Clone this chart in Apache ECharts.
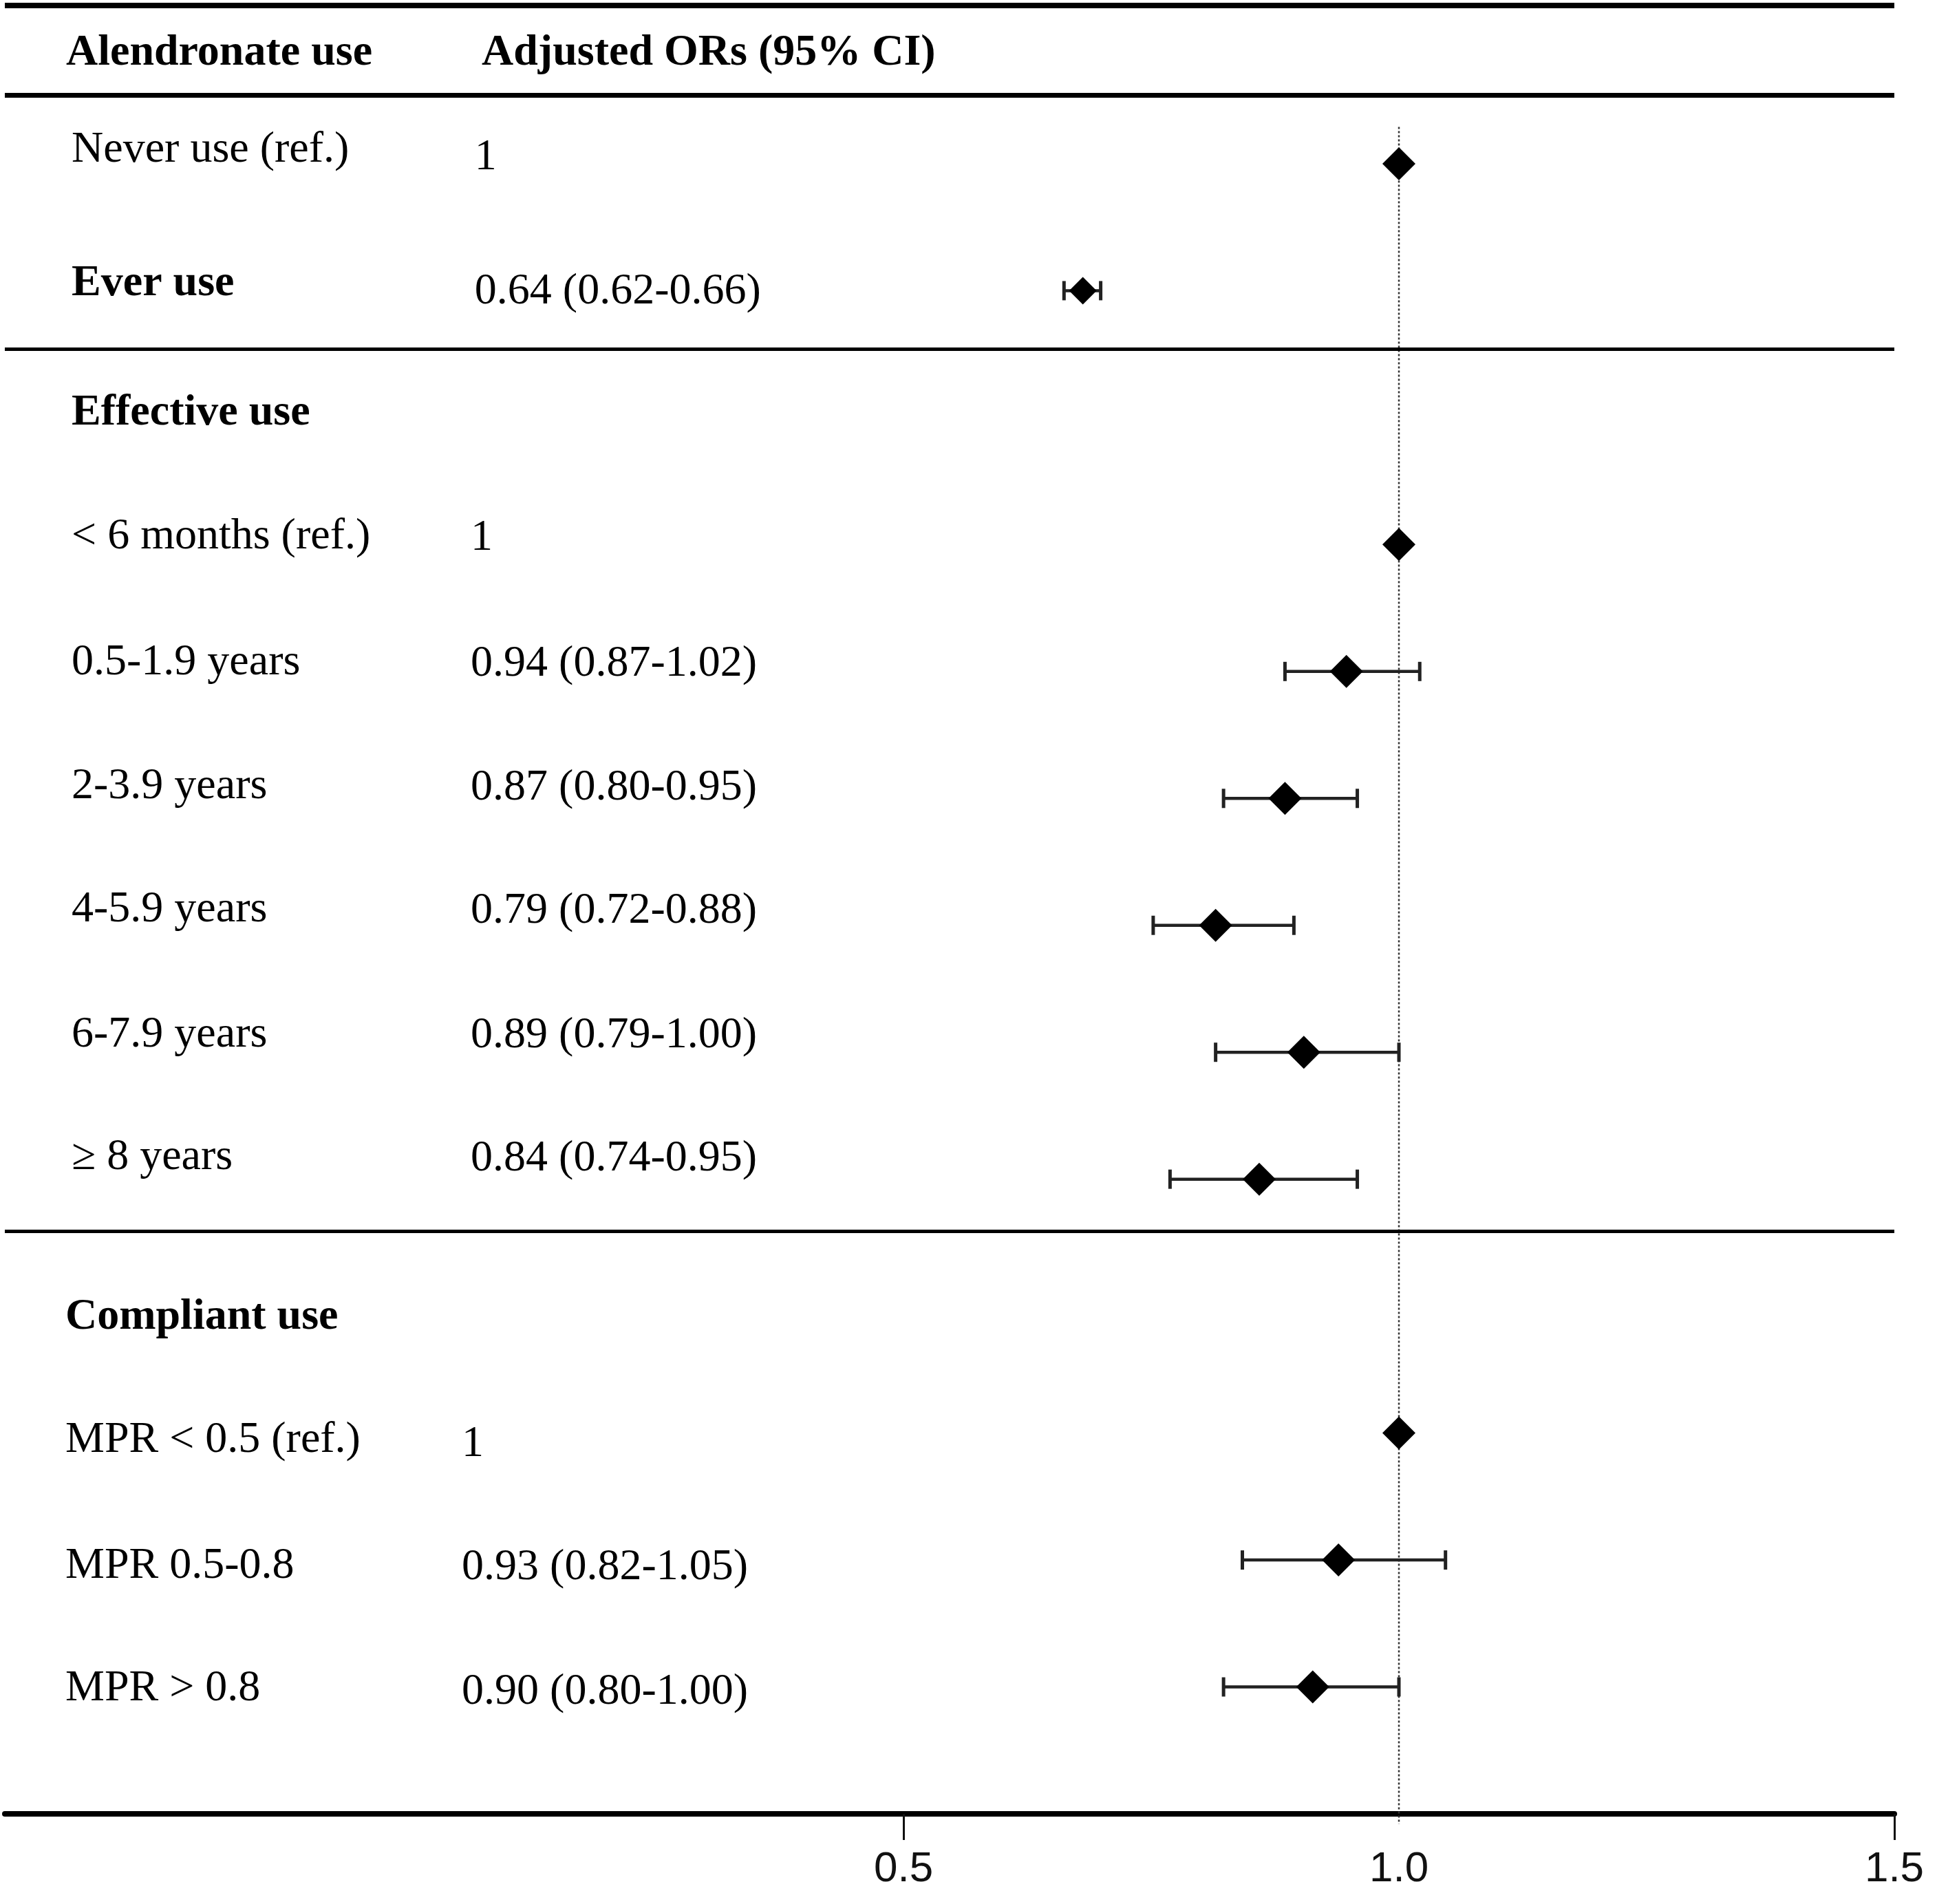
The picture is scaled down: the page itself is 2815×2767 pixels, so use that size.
<!DOCTYPE html>
<html>
<head>
  <meta charset="utf-8">
  <title>Alendronate use forest plot</title>
  <script src="https://cdn.jsdelivr.net/npm/echarts@6/dist/echarts.min.js"></script>
  <style>
    html, body { margin: 0; padding: 0; background: #ffffff; }
    #chart { width: 2815px; height: 2767px; }
  </style>
</head>
<body>
<div id="chart"></div>
<script>
  // ---- data ----
  var headers = ['Alendronate use', 'Adjusted ORs (95% CI)'];
  var rowLabels = ['Never use (ref.)', 'Ever use', 'Effective use', '< 6 months (ref.)',
    '0.5-1.9 years', '2-3.9 years', '4-5.9 years', '6-7.9 years', '\u2265 8 years',
    'Compliant use', 'MPR < 0.5 (ref.)', 'MPR 0.5-0.8', 'MPR > 0.8'];
  var orText = ['1', '0.64 (0.62-0.66)', '', '1', '0.94 (0.87-1.02)', '0.87 (0.80-0.95)',
    '0.79 (0.72-0.88)', '0.89 (0.79-1.00)', '0.84 (0.74-0.95)', '', '1',
    '0.93 (0.82-1.05)', '0.90 (0.80-1.00)'];
  // plotted positions (as drawn in the figure)
  var pointEst = [1.0, 0.681, null, 1.0, 0.947, 0.885, 0.815, 0.904, 0.859, null, 1.0, 0.939, 0.913];
  var ciLow = [null, 0.662, null, null, 0.885, 0.823, 0.752, 0.815, 0.769, null, null, 0.842, 0.823];
  var ciHigh = [null, 0.699, null, null, 1.021, 0.958, 0.894, 1.0, 0.958, null, null, 1.047, 1.0];
  var boldRows = [1, 2, 9];
  var xTicks = [0.5, 1.0, 1.5];

  // ---- layout ----
  var X_MIN = -0.407, X_MAX = 1.5;
  var Y_TOP = -1.252, Y_BOTTOM = 13;
  var sectionOf = [0, 0, 1, 1, 1, 1, 1, 1, 1, 2, 2, 2, 2];
  var labelX = [-0.3396, -0.3396, -0.3459];
  var valueX = [0.0672, 0.0632, 0.0542];
  var labelDy = [-20, -10, -6, -11, -13, -17, -23, -25, -31, 16, 11, 9, 3];
  var valueDy = [-9, 2, 0, -9, -11, -15, -21, -24, -29, 0, 17, 11, 8];
  var headerX = [-0.3452, 0.0743];
  var headerDy = 24;
  var rules = [
    { y: Y_TOP, w: 8 },
    { y: -0.542, w: 7 },
    { y: 1.463, w: 5 },
    { y: 8.407, w: 5 }
  ];
  var SERIF = '"Liberation Serif", "Times New Roman", serif';

  var chart = echarts.init(document.getElementById('chart'));

  var textCells = [];
  headers.forEach(function (h, k) {
    textCells.push({ value: [headerX[k], -1], text: h, dy: headerDy, bold: true });
  });
  rowLabels.forEach(function (t, i) {
    textCells.push({ value: [labelX[sectionOf[i]], i], text: t, dy: labelDy[i], bold: boldRows.indexOf(i) >= 0 });
    if (orText[i]) {
      textCells.push({ value: [valueX[sectionOf[i]], i], text: orText[i], dy: valueDy[i], bold: false });
    }
  });

  var pointData = [];
  var ciData = [];
  pointEst.forEach(function (v, i) {
    if (v != null) pointData.push({ value: [v, i], symbolSize: i === 1 ? 40 : 48 });
    if (ciLow[i] != null) ciData.push([ciLow[i], ciHigh[i], i]);
  });

  chart.setOption({
    animation: false,
    backgroundColor: '#ffffff',
    grid: { left: 7, right: 62, top: 7, bottom: 131 },
    xAxis: {
      type: 'value',
      min: X_MIN,
      max: X_MAX,
      position: 'bottom',
      splitLine: { show: false },
      axisLine: { show: true, onZero: false, lineStyle: { color: '#000', width: 8 } },
      axisTick: { show: true, customValues: [0.5, 1.5], length: 38, lineStyle: { color: '#111', width: 3 } },
      axisLabel: {
        customValues: xTicks,
        margin: 50,
        fontFamily: '"Liberation Sans", Arial, sans-serif',
        fontSize: 62,
        color: '#111',
        formatter: function (v) { return v.toFixed(1); }
      }
    },
    yAxis: {
      type: 'value',
      inverse: true,
      min: Y_TOP,
      max: Y_BOTTOM,
      show: false
    },
    series: [
      {
        // dotted reference line at OR = 1
        type: 'line',
        clip: false,
        symbol: 'none',
        z: 1,
        data: [[1.0, -0.29], [1.0, 13.08]],
        lineStyle: { color: '#333', width: 2.5, type: [3, 3] }
      },
      {
        type: 'custom',
        z: 2,
        data: ciData,
        renderItem: function (params, api) {
          var lo = api.coord([api.value(0), api.value(2)]);
          var hi = api.coord([api.value(1), api.value(2)]);
          var cap = 14;
          var bar = { stroke: '#222', lineWidth: 4.5 };
          var capStyle = { stroke: '#222', lineWidth: 5 };
          return {
            type: 'group',
            children: [
              { type: 'line', shape: { x1: lo[0], y1: lo[1], x2: hi[0], y2: hi[1] }, style: bar },
              { type: 'line', shape: { x1: lo[0], y1: lo[1] - cap, x2: lo[0], y2: lo[1] + cap }, style: capStyle },
              { type: 'line', shape: { x1: hi[0], y1: hi[1] - cap, x2: hi[0], y2: hi[1] + cap }, style: capStyle }
            ]
          };
        }
      },
      {
        type: 'scatter',
        z: 3,
        symbol: 'diamond',
        itemStyle: { color: '#000', opacity: 1 },
        data: pointData,
        markLine: {
          silent: true,
          symbol: ['none', 'none'],
          label: { show: false },
          data: rules.map(function (r) {
            return { yAxis: r.y, lineStyle: { color: '#000', width: r.w, type: 'solid' } };
          })
        }
      },
      {
        type: 'custom',
        z: 4,
        data: textCells,
        renderItem: function (params, api) {
          var cell = textCells[params.dataIndex];
          var p = api.coord(cell.value);
          return {
            type: 'text',
            x: p[0],
            y: p[1] + cell.dy,
            style: {
              text: cell.text,
              fontFamily: SERIF,
              fontSize: 64,
              fontWeight: cell.bold ? 'bold' : 'normal',
              fill: '#000',
              align: 'left',
              verticalAlign: 'middle'
            }
          };
        }
      }
    ]
  });
</script>
</body>
</html>
